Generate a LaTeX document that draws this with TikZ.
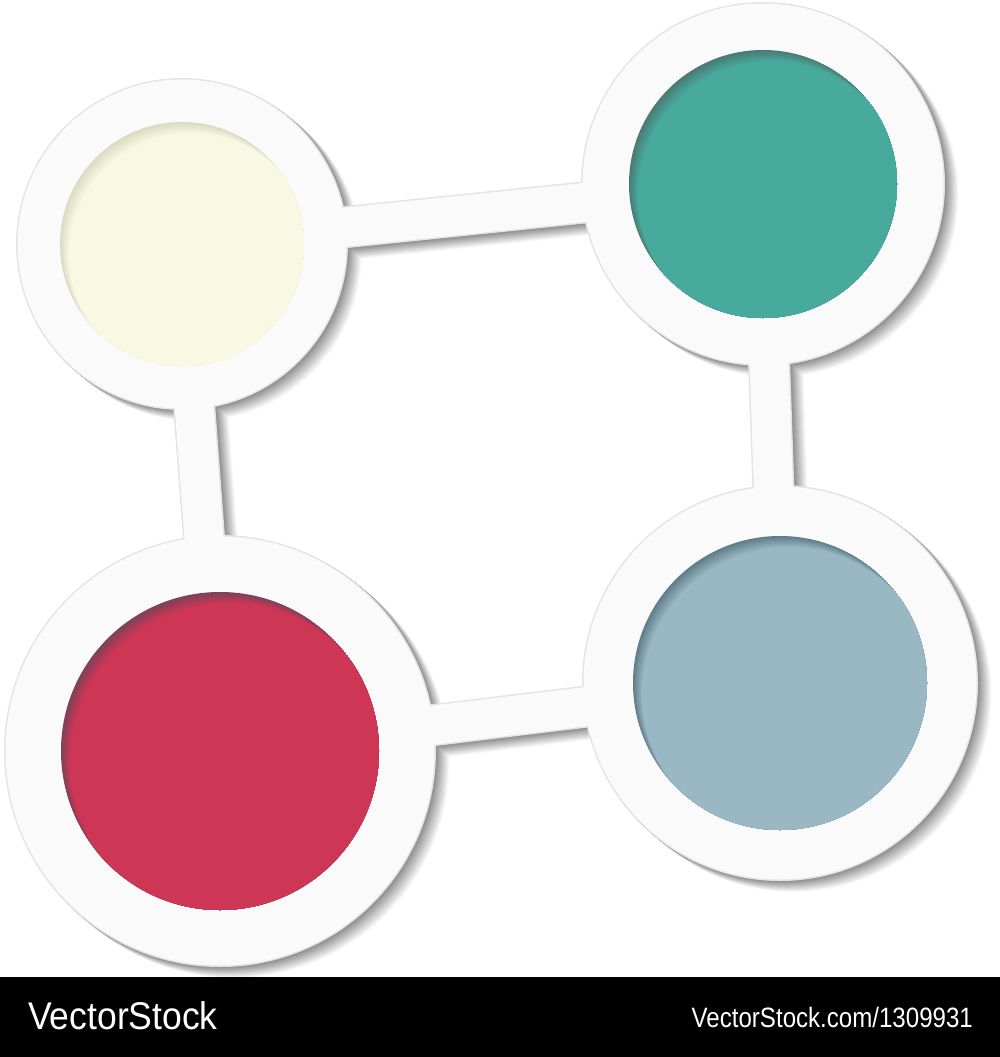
\documentclass[tikz,border=0pt]{standalone}
\usepackage{fontspec}
\setmainfont{Liberation Sans}
\usepackage{tikz}

\definecolor{face}{HTML}{FAFAFA}
\definecolor{rim}{HTML}{E4E4E4}
\definecolor{pale}{HTML}{F8F9E3}
\definecolor{paledk}{HTML}{DADBC3}
\definecolor{sea}{HTML}{47AA9D}
\definecolor{seadk}{HTML}{4A7A74}
\definecolor{rose}{HTML}{CE3656}
\definecolor{rosedk}{HTML}{7E4257}
\definecolor{steel}{HTML}{9AB8C4}
\definecolor{steeldk}{HTML}{5E7D88}

% bars and rings as one shape: #1,#2 shift, #3 inset, #4 colour
\newcommand{\ringunion}[4]{%
  \foreach \a/\b in {tl/tr,tr/br,br/bl,bl/tl}
    \draw[#4, line width={42-2*#3}] ([shift={(#1,#2)}]\a) -- ([shift={(#1,#2)}]\b);
  \foreach \c/\r in {tl/166,tr/182,br/198,bl/216}
    \fill[#4] ([shift={(#1,#2)}]\c) circle ({\r-#3});
}

\begin{document}
\begin{tikzpicture}[x=1pt,y=-1pt]

\useasboundingbox (0,0) rectangle (1000,1057);

\coordinate (tl) at (182,244);
\coordinate (tr) at (763,184);
\coordinate (br) at (780,683);
\coordinate (bl) at (220,751);

% shadow
\foreach \i [evaluate=\i as \g using 46-3.4*\i] in {13,12,...,1}
    \ringunion{1.05*\i}{0.85*\i}{0}{black!\g};

\ringunion{0}{0}{0}{rim}
\ringunion{0}{0}{1.5}{face}

% coloured discs
\foreach \c/\r/\col in {tl/122/pale, tr/134/sea, br/147/steel, bl/159/rose} {
    \begin{scope}
    \clip (\c) circle (\r);
    \fill[\col dk] (\c) circle (\r);
    \foreach \k [evaluate=\k as \m using 10*\k] in {1,...,10}
        \fill[\col!\m!\col dk] ([shift={(0.9*\k,1.1*\k)}]\c) circle (\r);
    \end{scope}
}

\fill[black] (0,977) rectangle (1000,1057);
\node (brand) [anchor=base west, inner sep=0pt, text=white, font=\fontsize{38.6}{42}\selectfont, xscale=0.92, transform shape]
    at (28,1029) {VectorStock};
\node (ref) [anchor=base east, inner sep=0pt, text=white, font=\fontsize{28}{31}\selectfont, xscale=0.86, transform shape]
    at (973,1027) {VectorStock.com/1309931};

\end{tikzpicture}
\end{document}
